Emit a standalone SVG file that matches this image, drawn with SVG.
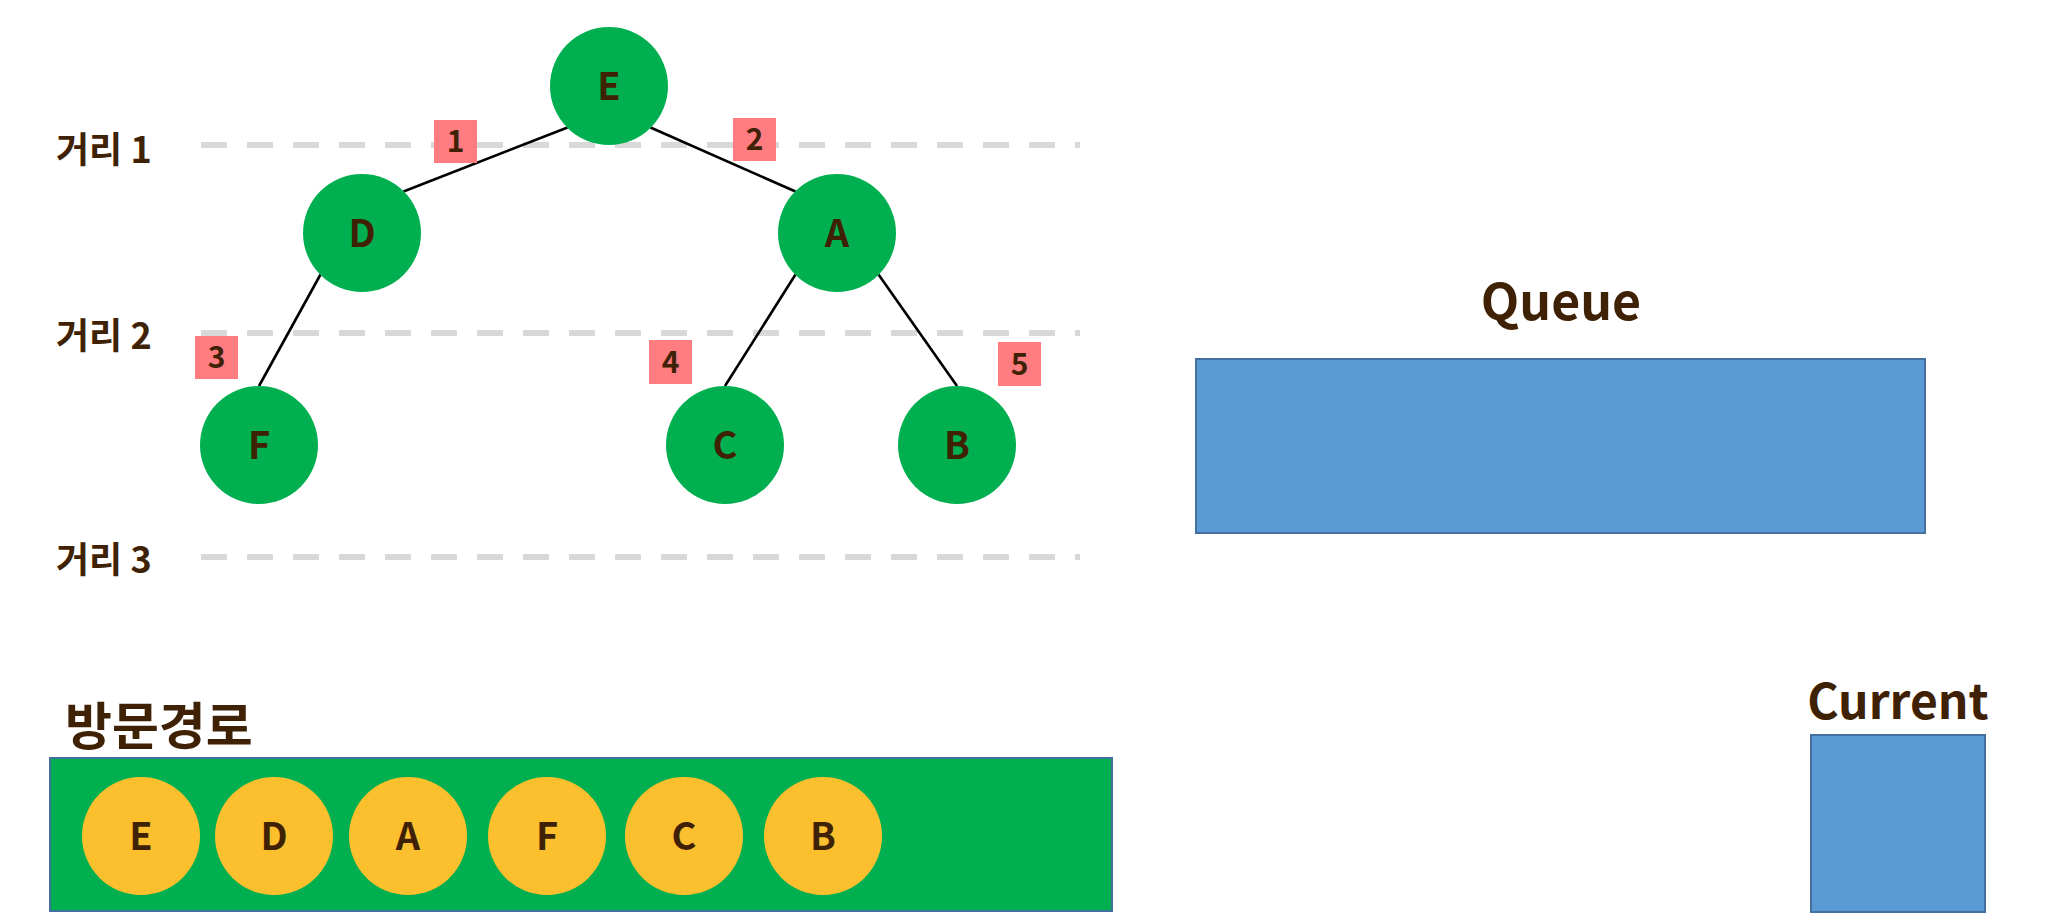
<svg xmlns="http://www.w3.org/2000/svg" width="2048" height="917" viewBox="0 0 2048 917">
<style>
text{font-family:"Noto Sans CJK KR","Noto Sans",sans-serif;font-weight:bold;fill:#3f2205}
.node{fill:#00b050}
.visit{fill:#fcbf2d}
.lt{font-size:38px;text-anchor:middle}
.badge{fill:#ff7c80}
.bt{font-size:30px;text-anchor:middle}
.dash{stroke:#d9d9d9;stroke-width:6;stroke-dasharray:26 20}
.edge{stroke:#000;stroke-width:2.6}
.dl{font-size:36px}
.hd{text-anchor:middle}
.box{fill:#5b9bd5;stroke:#41719c;stroke-width:2}
</style>
<rect width="2048" height="917" fill="#fff"/>
<g id="levels">
<line class="dash" x1="201" y1="145" x2="1080" y2="145"/>
<line class="dash" x1="201" y1="333" x2="1080" y2="333"/>
<line class="dash" x1="201" y1="557" x2="1080" y2="557"/>
<text class="dl" x="56" y="163">거리 1</text>
<text class="dl" x="56" y="349">거리 2</text>
<text class="dl" x="56" y="573">거리 3</text>
</g>
<g id="connectors">
<line class="edge" x1="567.5" y1="127.5" x2="403.5" y2="191.5"/>
<line class="edge" x1="650.5" y1="127.5" x2="795.5" y2="191.5"/>
<line class="edge" x1="320.5" y1="274.5" x2="259" y2="386"/>
<line class="edge" x1="795.5" y1="274.5" x2="725" y2="386"/>
<line class="edge" x1="878.5" y1="274.5" x2="957" y2="386"/>
</g>
<g id="badges">
<rect class="badge" x="434" y="120" width="43" height="43"/><text class="bt" x="455.5" y="152">1</text>
<rect class="badge" x="733" y="118" width="43" height="43"/><text class="bt" x="754.5" y="150">2</text>
<rect class="badge" x="195" y="336" width="43" height="43"/><text class="bt" x="216.5" y="368">3</text>
<rect class="badge" x="649" y="340" width="43" height="44"/><text class="bt" x="670.5" y="373">4</text>
<rect class="badge" x="998" y="342" width="43" height="44"/><text class="bt" x="1019.5" y="375">5</text>
</g>
<g id="node-E"><circle class="node" cx="609" cy="86" r="59"/><text class="lt" x="609" y="99.5">E</text></g>
<g id="node-D"><circle class="node" cx="362" cy="233" r="59"/><text class="lt" x="362" y="246.5">D</text></g>
<g id="node-A"><circle class="node" cx="837" cy="233" r="59"/><text class="lt" x="837" y="246.5">A</text></g>
<g id="node-F"><circle class="node" cx="259" cy="445" r="59"/><text class="lt" x="259" y="458.5">F</text></g>
<g id="node-C"><circle class="node" cx="725" cy="445" r="59"/><text class="lt" x="725" y="458.5">C</text></g>
<g id="node-B"><circle class="node" cx="957" cy="445" r="59"/><text class="lt" x="957" y="458.5">B</text></g>
<g id="queue">
<text class="hd" x="1561" y="320" style="font-size:50px">Queue</text>
<rect class="box" x="1196" y="359" width="729" height="174"/>
</g>
<g id="current">
<text class="hd" x="1898" y="719" style="font-size:48px">Current</text>
<rect class="box" x="1811" y="735" width="174" height="177"/>
</g>
<g id="path">
<text x="65" y="745" style="font-size:51px">방문경로</text>
<rect x="50" y="758" width="1062" height="153" fill="#00b050" stroke="#41719c" stroke-width="2"/>
<g id="visit-E"><circle class="visit" cx="141" cy="836" r="59"/><text class="lt" x="141" y="849.5">E</text></g>
<g id="visit-D"><circle class="visit" cx="274" cy="836" r="59"/><text class="lt" x="274" y="849.5">D</text></g>
<g id="visit-A"><circle class="visit" cx="408" cy="836" r="59"/><text class="lt" x="408" y="849.5">A</text></g>
<g id="visit-F"><circle class="visit" cx="547" cy="836" r="59"/><text class="lt" x="547" y="849.5">F</text></g>
<g id="visit-C"><circle class="visit" cx="684" cy="836" r="59"/><text class="lt" x="684" y="849.5">C</text></g>
<g id="visit-B"><circle class="visit" cx="823" cy="836" r="59"/><text class="lt" x="823" y="849.5">B</text></g>
</g>
</svg>
